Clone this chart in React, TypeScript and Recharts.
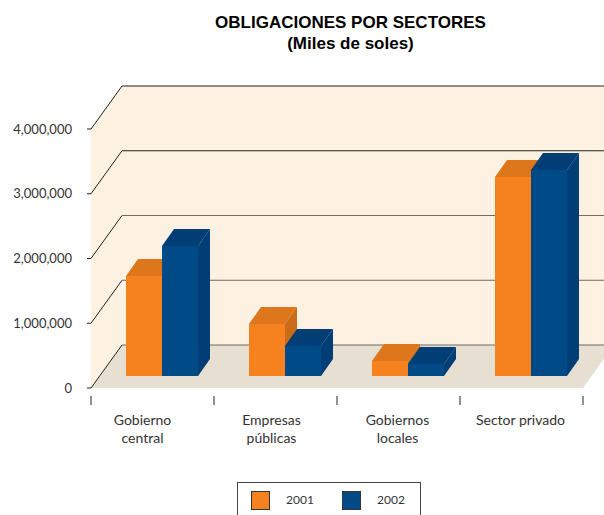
import { BarChart, Bar, XAxis, YAxis, Legend, ReferenceArea } from "recharts";

const categories = ["Gobierno\ncentral", "Empresas\npúblicas", "Gobiernos\nlocales", "Sector privado"];
const values2001 = [1540000, 790000, 220000, 3060000];
const values2002 = [2000000, 460000, 170000, 3170000];
const yTicks = [0, 1000000, 2000000, 3000000, 4000000];
const seriesNames = ["2001", "2002"];
const yMax = yTicks[yTicks.length - 1];

const data = categories.map((name, i) => ({
  name,
  v2001: values2001[i],
  v2002: values2002[i],
}));

// fake 3D: how far the back wall and the bar depth sit from the axes
const WALL_DX = 31;
const WALL_DY = 43;
const BAR_SHIFT_X = 8.6;
const BAR_SHIFT_Y = 12.5;
const BAR_DX = 12;
const BAR_DY = 17;
const FONT = "Lato, sans-serif";
const labelNudge = [-10, -4, -1, -1];

const shades: any = {
  "#F6821F": { top: "#DE761B", side: "#C96B17" },
  "#004A87": { top: "#003E75", side: "#003E75" },
};

function Bar3D({ x, y, width, height, fill }: any) {
  // whole pixels, so neighbouring bars meet without a light seam
  const l = Math.round(x + BAR_SHIFT_X);
  const r = Math.round(x + BAR_SHIFT_X + width);
  const t = Math.round(y - BAR_SHIFT_Y);
  const b = Math.round(y - BAR_SHIFT_Y + height);
  return (
    <g>
      <polygon
        points={`${l},${t} ${l + BAR_DX},${t - BAR_DY} ${r + BAR_DX},${t - BAR_DY} ${r},${t}`}
        fill={shades[fill].top}
      />
      <polygon
        points={`${r},${t} ${r + BAR_DX},${t - BAR_DY} ${r + BAR_DX},${b - BAR_DY} ${r},${b}`}
        fill={shades[fill].side}
      />
      <rect x={l} y={t} width={r - l} height={b - t} fill={fill} />
    </g>
  );
}

// walls, floor and grid all live here so the bars stay on top of them
function Walls({ x, y, width, height }: any) {
  const bottom = y + height;
  const right = x + width;
  return (
    <g>
      <polygon
        points={`${x},${y} ${x + WALL_DX},${y - WALL_DY} ${right + WALL_DX},${y - WALL_DY} ${right + WALL_DX},${bottom - WALL_DY} ${x + WALL_DX},${bottom - WALL_DY} ${x},${bottom}`}
        fill="#FDF1E1"
      />
      <polygon
        points={`${x},${bottom} ${x + WALL_DX},${bottom - WALL_DY} ${right + WALL_DX},${bottom - WALL_DY} ${right},${bottom}`}
        fill="#E7DFD1"
      />
      {yTicks.map((t, i) => {
        const ty = bottom - (t / yMax) * height;
        return (
          <g key={t}>
            <line x1={x} y1={ty} x2={x + WALL_DX} y2={ty - WALL_DY} stroke="#222222" />
            <line
              x1={x + WALL_DX}
              y1={ty - WALL_DY}
              x2={right + WALL_DX}
              y2={ty - WALL_DY}
              stroke={i < 3 ? "#6E6A64" : "#222222"}
            />
          </g>
        );
      })}
    </g>
  );
}

function CategoryTick({ x, y, payload, width, visibleTicksCount, index }: any) {
  const band = width / visibleTicksCount;
  const lines = String(payload.value).split("\n");
  return (
    <g>
      <line x1={x - band / 2} y1={y} x2={x - band / 2} y2={y + 9} stroke="#222222" />
      {index === visibleTicksCount - 1 && (
        <line x1={x + band / 2} y1={y} x2={x + band / 2} y2={y + 9} stroke="#222222" />
      )}
      <text x={x + labelNudge[index]} textAnchor="middle" fontFamily={FONT} fontSize={14} fill="#333333">
        {lines.map((line, i) => (
          <tspan key={i} x={x + labelNudge[index]} y={y + 29 + i * 18}>
            {line}
          </tspan>
        ))}
      </text>
    </g>
  );
}

function LegendBox({ payload }: any) {
  return (
    <div
      style={{
        width: 182,
        height: 40,
        border: "1px solid #444444",
        position: "relative",
        fontFamily: FONT,
        fontSize: 12,
        color: "#333333",
      }}
    >
      {(payload || []).map((entry: any, i: number) => (
        <div key={i}>
          <div
            style={{
              position: "absolute",
              left: 13 + i * 91,
              top: 8,
              width: 17,
              height: 17,
              background: entry.color,
              border: "1px solid #333333",
            }}
          />
          <div style={{ position: "absolute", left: 42 + i * 91, width: 40, top: 8, textAlign: "center", lineHeight: "18px" }}>
            {entry.value}
          </div>
        </div>
      ))}
    </div>
  );
}

export default function App() {
  return (
    <div style={{ position: "absolute", left: 0, top: 0, width: 604, height: 515, overflow: "hidden", background: "#fff" }}>

      {/* TITLE */}

      <div
        style={{
          position: "absolute",
          left: 150,
          top: 12,
          width: 401,
          textAlign: "center",
          fontFamily: "'Liberation Sans', Arial, sans-serif",
          fontWeight: "bold",
          fontSize: 17,
          lineHeight: "21px",
          color: "#000",
        }}
      >
        OBLIGACIONES POR SECTORES
        <br />
        (Miles de soles)
      </div>

      {/* CHART */}

      <BarChart
        width={604}
        height={515}
        data={data}
        margin={{ top: 129, right: 21, bottom: 0, left: 0 }}
        barCategoryGap={26}
        barGap={0}
      >
        <ReferenceArea y1={0} y2={yMax} shape={<Walls />} ifOverflow="visible" />
        <XAxis
          dataKey="name"
          height={127}
          axisLine={false}
          tickLine={false}
          interval={0}
          tick={<CategoryTick />}
        />
        <YAxis
          width={91}
          domain={[0, yMax]}
          ticks={yTicks}
          axisLine={false}
          tickLine={{ stroke: "#222222" }}
          tickSize={4}
          tickMargin={15}
          tickFormatter={(v: number) => v.toLocaleString("en-US")}
          tick={{ fontFamily: FONT, fontSize: 13, fill: "#333333" }}
        />
        <Legend
          verticalAlign="middle"
          layout="horizontal"
          wrapperStyle={{ left: 237, top: 482, width: 184, height: 42, margin: 0 }}
          content={<LegendBox />}
        />
        <Bar dataKey="v2001" name={seriesNames[0]} fill="#F6821F" shape={<Bar3D />} isAnimationActive={false} />
        <Bar dataKey="v2002" name={seriesNames[1]} fill="#004A87" shape={<Bar3D />} isAnimationActive={false} />
      </BarChart>
    </div>
  );
}
